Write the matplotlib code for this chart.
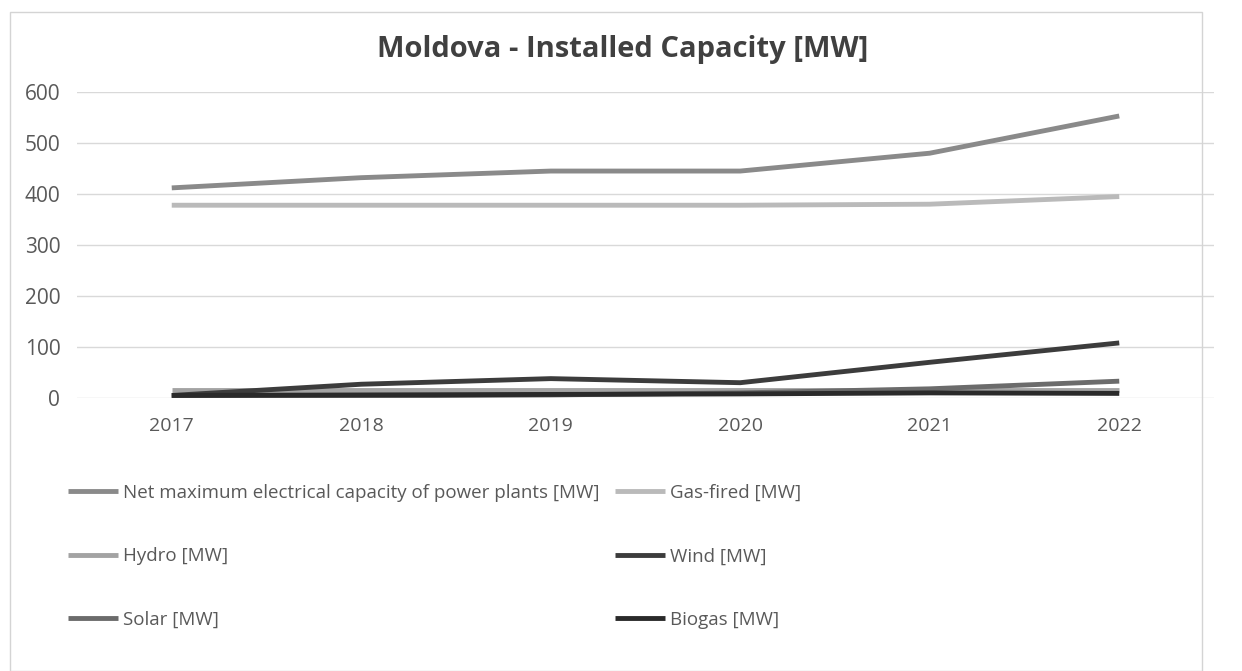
import matplotlib
matplotlib.use("Agg")
import matplotlib.pyplot as plt
from matplotlib.patches import Rectangle

years = ["2017", "2018", "2019", "2020", "2021", "2022"]
net_max = [412, 432, 445, 445, 480, 553]
gas_fired = [378, 378, 378, 378, 380, 395]
hydro = [16, 16, 16, 16, 16, 16]
wind = [5, 27, 38, 30, 70, 108]
solar = [2, 4, 6, 10, 18, 33]
biogas = [5, 6, 7, 8, 10, 9]
y_ticks = [0, 100, 200, 300, 400, 500, 600]

series = [
    ("Net maximum electrical capacity of power plants [MW]", net_max, "#8a8a8a"),
    ("Gas-fired [MW]", gas_fired, "#bababa"),
    ("Hydro [MW]", hydro, "#a3a3a3"),
    ("Wind [MW]", wind, "#3c3c3c"),
    ("Solar [MW]", solar, "#6b6b6b"),
    ("Biogas [MW]", biogas, "#2a2a2a"),
]

FONT = "Open Sans"
W, H = 1242, 671
fig = plt.figure(figsize=(W / 100, H / 100), dpi=100)
fig.patch.set_facecolor("white")

# chart frame
fig.add_artist(Rectangle((10 / W, 0), (1202 - 10) / W, 1 - 12 / H,
                         transform=fig.transFigure, fill=False,
                         edgecolor="#d4d4d4", linewidth=1.0))

left, right = 77 / W, 1214 / W
bottom, top = 1 - 398 / H, 1 - 92 / H
ax = fig.add_axes([left, bottom, right - left, top - bottom])
ax.set_facecolor("none")

x = list(range(len(years)))
handles = {}
for name, vals, col in series:
    (ln,) = ax.plot(x, vals, color=col, linewidth=3.5, solid_capstyle="butt",
                    zorder=3)
    handles[name] = ln

ax.set_xlim(-0.5, len(years) - 0.5)
ax.set_ylim(0, 600)
ax.set_yticks(y_ticks)
ax.set_xticks(x)
ax.set_xticklabels(years)
ax.grid(axis="y", color="#d9d9d9", linewidth=1.0, zorder=0)
ax.set_axisbelow(True)
for s in ax.spines.values():
    s.set_visible(False)
ax.tick_params(axis="both", length=0, labelcolor="#595959")
ax.tick_params(axis="y", pad=12, labelsize=15)
ax.tick_params(axis="x", pad=14, labelsize=14)
for lab in ax.get_xticklabels() + ax.get_yticklabels():
    lab.set_fontfamily(FONT)

fig.text(623 / W, 1 - 57 / H, "Moldova - Installed Capacity [MW]", ha="center",
         va="baseline", fontsize=21, fontweight="bold", color="#404040",
         fontfamily=FONT)

order = [0, 2, 4, 1, 3, 5]
hs = [handles[series[i][0]] for i in order]
ls = [series[i][0] for i in order]
leg = fig.legend(hs, ls, loc="upper left", bbox_to_anchor=(68 / W, 1 - 484 / H),
                 ncol=2, frameon=False, handlelength=2.67,
                 handletextpad=0.27, columnspacing=0.8, labelspacing=2.42,
                 borderaxespad=0, borderpad=0, prop={"family": FONT, "size": 13.5})
for t in leg.get_texts():
    t.set_color("#595959")

fig.savefig("out.png", dpi=100, facecolor="white")
